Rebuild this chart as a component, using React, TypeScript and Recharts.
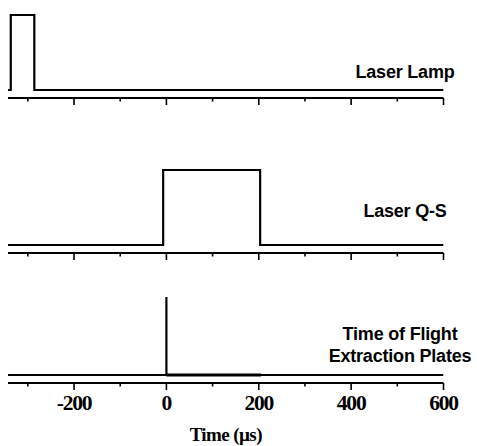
import { LineChart, Line, XAxis, YAxis, Label } from "recharts";

// time (µs) / signal level for each trace
const lampTime = [-343, -337, -337, -286, -286, 600];
const lampLevel = [0, 0, 1, 1, 0, 0];

const qsTime = [-343, -7, -7, 203, 203, 600];
const qsLevel = [0, 0, 1, 1, 0, 0];

const tofTime = [-343, 0, 0, 0, 600];
const tofLevel = [0, 0, 1.04, 0, 0];

const plateTime = [0, 205];
const plateLevel = [0, 0];

const tickValues = [-300, -200, -100, 0, 100, 200, 300, 400, 500, 600];
const majorTicks = [-200, 0, 200, 400, 600];

const X_DOMAIN: [number, number] = [-343, 600];

const toRows = (t: number[], v: number[]) => t.map((x, i) => ({ t: x, v: v[i] }));

const SERIF = "'Liberation Serif', 'Times New Roman', serif";
const SANS = "'Liberation Sans', Arial, sans-serif";

interface TickProps {
  x?: number;
  y?: number;
  payload?: { value: number };
  showLabel?: boolean;
}

const AxisTick = ({ x = 0, y = 0, payload, showLabel }: TickProps) => {
  const value = payload ? payload.value : 0;
  const isMajor = majorTicks.includes(value);
  return (
    <g>
      <line x1={x} x2={x} y1={y} y2={y + (isMajor ? 7 : 3.5)} stroke="#000" strokeWidth={1.6} />
      {showLabel && isMajor && (
        <text
          x={x}
          y={y + 27}
          textAnchor="middle"
          fontFamily={SERIF}
          fontWeight="bold"
          fontSize={21.5}
          letterSpacing={-1.2}
          fill="#000"
        >
          {value}
        </text>
      )}
    </g>
  );
};

interface PanelProps {
  top: number;
  height: number;
  rows: { t: number; v: number }[];
  extra?: { t: number; v: number }[];
  yMax?: number;
  marginTop?: number;
  bottomAxis?: boolean;
}

const Panel = ({ top, height, rows, extra, yMax = 1, marginTop = 15, bottomAxis }: PanelProps) => (
  <div style={{ position: "absolute", left: 0, top }}>
    <LineChart
      width={477}
      height={height}
      margin={{ top: marginTop, right: 33.5, left: 8, bottom: 0 }}
    >
      <XAxis
        type="number"
        dataKey="t"
        domain={X_DOMAIN}
        ticks={tickValues}
        allowDataOverflow
        height={height - 98}
        tickSize={0}
        tickMargin={0}
        tickLine={false}
        axisLine={{ stroke: "#000", strokeWidth: 2 }}
        tick={<AxisTick showLabel={bottomAxis} />}
        interval={0}
      >
        {bottomAxis && (
          <Label
            content={({ viewBox }: any) => (
              <text
                x={viewBox.x + viewBox.width / 2}
                y={viewBox.y + 58}
                textAnchor="middle"
                fontFamily={SERIF}
                fontWeight="bold"
                fontSize={19}
                letterSpacing={-0.6}
                fill="#000"
              >
                Time (µs)
              </text>
            )}
          />
        )}
      </XAxis>
      <YAxis hide type="number" domain={[-0.107, yMax]} />
      <Line
        data={rows}
        dataKey="v"
        type="linear"
        stroke="#000"
        strokeWidth={2.2}
        dot={false}
        isAnimationActive={false}
      />
      {extra && (
        <Line
          data={extra}
          dataKey="v"
          type="linear"
          stroke="#000"
          strokeWidth={2.8}
          dot={false}
          isAnimationActive={false}
        />
      )}
    </LineChart>
  </div>
);

const labelStyle = {
  fontFamily: SANS,
  fontWeight: "bold" as const,
  fontSize: 18,
  letterSpacing: -0.2,
  fill: "#000",
};

export default function App() {
  return (
    <div
      style={{
        position: "absolute",
        left: 0,
        top: 0,
        width: 477,
        height: 446,
        background: "#fff",
        overflow: "hidden",
      }}
    >
      <Panel top={0} height={110} rows={toRows(lampTime, lampLevel)} />
      <Panel top={155} height={110} rows={toRows(qsTime, qsLevel)} />
      <Panel
        top={285}
        height={161}
        rows={toRows(tofTime, tofLevel)}
        extra={toRows(plateTime, plateLevel)}
        yMax={1.04}
        marginTop={12}
        bottomAxis
      />
      <svg
        width={477}
        height={446}
        style={{ position: "absolute", left: 0, top: 0, pointerEvents: "none" }}
      >
        <text x={405} y={78} textAnchor="middle" {...labelStyle}>
          Laser Lamp
        </text>
        <text x={405} y={217} textAnchor="middle" {...labelStyle}>
          Laser Q-S
        </text>
        <text x={400} y={340} textAnchor="middle" {...labelStyle}>
          Time of Flight
        </text>
        <text x={400} y={362} textAnchor="middle" {...labelStyle}>
          Extraction Plates
        </text>
      </svg>
    </div>
  );
}
